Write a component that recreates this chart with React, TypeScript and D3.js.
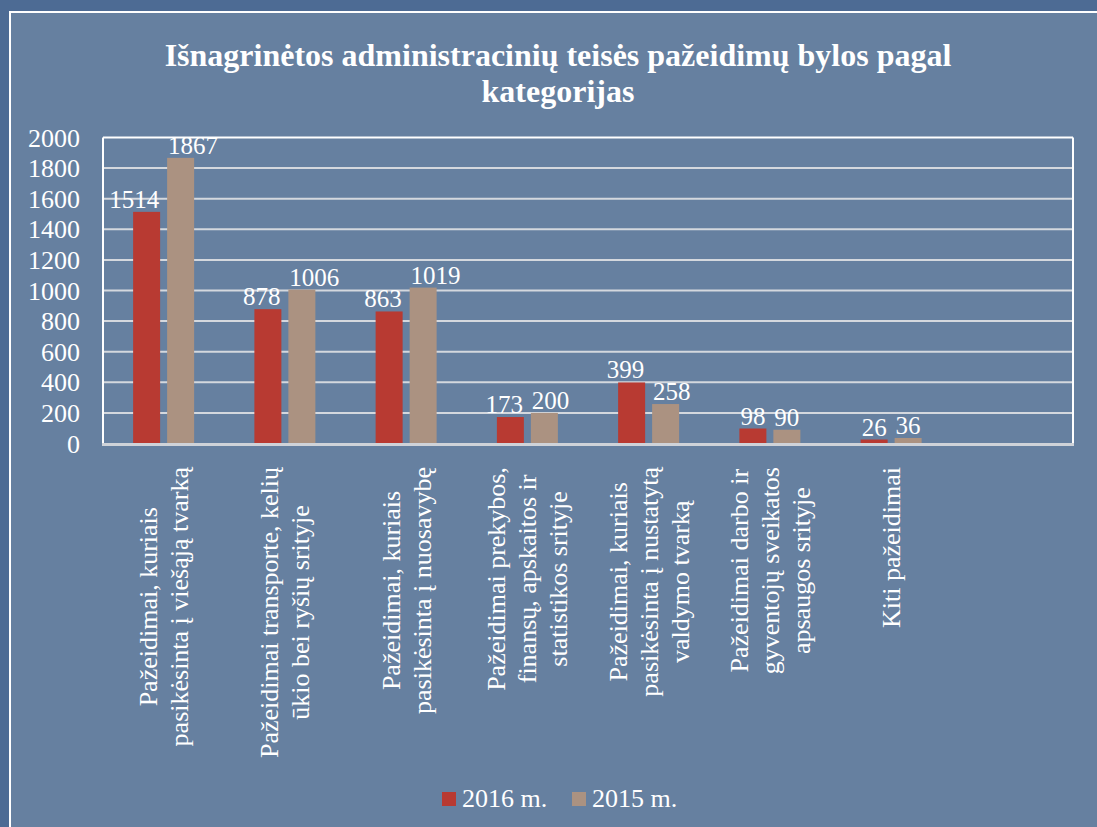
import React, { useEffect, useRef } from "react";
import * as d3 from "d3";

const categories: string[][] = [
  ["Pažeidimai, kuriais", "pasikėsinta į viešąją tvarką"],
  ["Pažeidimai transporte, kelių", "ūkio bei ryšių srityje"],
  ["Pažeidimai, kuriais", "pasikėsinta į nuosavybę"],
  ["Pažeidimai prekybos,", "finansų, apskaitos ir", "statistikos srityje"],
  ["Pažeidimai, kuriais", "pasikėsinta į nustatytą", "valdymo tvarką"],
  ["Pažeidimai darbo ir", "gyventojų sveikatos", "apsaugos srityje"],
  ["Kiti pažeidimai"],
  [],
];
const series2016: number[] = [1514, 878, 863, 173, 399, 98, 26];
const series2015: number[] = [1867, 1006, 1019, 200, 258, 90, 36];
const seriesNames: string[] = ["2016 m.", "2015 m."];
const yTicks: number[] = [0, 200, 400, 600, 800, 1000, 1200, 1400, 1600, 1800, 2000];
const titleLines: string[] = [
  "Išnagrinėtos administracinių teisės pažeidimų bylos pagal",
  "kategorijas",
];

const W = 1097;
const H = 827;
const BG = "#6680a0";
const FRAME = "#4d6b94";
const RED = "#b83a32";
const TAN = "#ab9281";
const FONT = "'Liberation Serif', 'Times New Roman', serif";

export default function App() {
  const ref = useRef<SVGSVGElement | null>(null);

  useEffect(() => {
    const svg = d3.select(ref.current);
    svg.selectAll("*").remove();

    // background
    svg.append("rect").attr("x", 0).attr("y", 0).attr("width", W).attr("height", H).attr("fill", FRAME);
    svg.append("rect").attr("x", 9).attr("y", 11).attr("width", W - 9).attr("height", H - 11).attr("fill", BG);
    svg.append("line").attr("x1", 10).attr("x2", 10).attr("y1", 11).attr("y2", H).attr("stroke", "#ffffff").attr("stroke-width", 2);
    svg.append("line").attr("x1", 9).attr("x2", W).attr("y1", 12).attr("y2", 12).attr("stroke", "#ffffff").attr("stroke-width", 2);

    // title
    const title = svg.append("g");
    titleLines.forEach((t, i) => {
      title
        .append("text")
        .attr("x", 558)
        .attr("y", 66 + i * 36)
        .attr("text-anchor", "middle")
        .attr("font-family", FONT)
        .attr("font-weight", "bold")
        .attr("font-size", 32)
        .attr("fill", "#ffffff")
        .text(t);
    });

    const left = 103,
      right = 1073,
      top = 137.5,
      bottom = 443.5;

    const x = d3
      .scaleBand<number>()
      .domain(d3.range(categories.length))
      .range([left, right])
      .padding(0);
    const y = d3.scaleLinear().domain([0, 2000]).range([bottom, top]);

    const step = x.bandwidth();
    const barW = step * 0.2227;
    const gap = step * 0.0577;

    // gridlines
    yTicks.forEach((t) => {
      if (t === 0) return;
      svg
        .append("line")
        .attr("x1", left)
        .attr("x2", right)
        .attr("y1", y(t))
        .attr("y2", y(t))
        .attr("stroke", t === 2000 ? "#ffffff" : "#d4d8de")
        .attr("stroke-width", 2);
    });
    // plot border left & right
    svg.append("line").attr("x1", left).attr("x2", left).attr("y1", top).attr("y2", bottom).attr("stroke", "#ffffff").attr("stroke-width", 2);
    svg.append("line").attr("x1", right).attr("x2", right).attr("y1", top).attr("y2", bottom).attr("stroke", "#ffffff").attr("stroke-width", 2);

    // tick labels
    yTicks.forEach((t) => {
      svg
        .append("text")
        .attr("x", 80)
        .attr("y", y(t))
        .attr("dy", "0.35em")
        .attr("text-anchor", "end")
        .attr("font-family", FONT)
        .attr("font-size", 26)
        .attr("fill", "#ffffff")
        .text(String(t));
    });

    // bars
    const all = [series2016, series2015];
    const colors = [RED, TAN];
    all.forEach((s, si) => {
      s.forEach((v, i) => {
        const c = (x(i) as number) + step / 2;
        const bx = si === 0 ? c - gap / 2 - barW : c + gap / 2;
        svg
          .append("rect")
          .attr("x", bx)
          .attr("y", y(v))
          .attr("width", barW)
          .attr("height", bottom - y(v))
          .attr("fill", colors[si]);
      });
    });

    // axis baseline
    svg.append("line").attr("x1", left - 1).attr("x2", right + 1).attr("y1", bottom + 1).attr("y2", bottom + 1).attr("stroke", "#cfd3d9").attr("stroke-width", 3);

    // data labels
    all.forEach((s, si) => {
      s.forEach((v, i) => {
        const c = (x(i) as number) + step / 2;
        const bx = si === 0 ? c - gap / 2 - barW : c + gap / 2;
        svg
          .append("text")
          .attr("x", si === 0 ? bx + barW - 1 : bx + 1)
          .attr("y", y(v) - 4)
          .attr("text-anchor", si === 0 ? "end" : "start")
          .attr("font-family", FONT)
          .attr("font-size", 25)
          .attr("fill", "#ffffff")
          .text(String(v));
      });
    });

    // category labels
    const lineGap = 31;
    categories.forEach((lines, i) => {
      if (!lines.length) return;
      const c = (x(i) as number) + step / 2;
      const g = svg.append("g");
      const texts = lines.map((l) =>
        g
          .append("text")
          .attr("font-family", FONT)
          .attr("font-size", 26)
          .attr("fill", "#ffffff")
          .attr("text-anchor", "middle")
          .text(l)
      );
      let maxLen = 0;
      texts.forEach((t) => {
        const n = (t.node() as SVGTextElement).getComputedTextLength();
        if (n > maxLen) maxLen = n;
      });
      const cy = 467 + maxLen / 2;
      texts.forEach((t, li) => {
        const bx = c + (li - (lines.length - 1) / 2) * lineGap + 9;
        t.attr("transform", `translate(${bx},${cy}) rotate(-90)`);
      });
    });

    // legend
    const legend = svg.append("g");
    const items = [
      { name: seriesNames[0], color: RED, x: 442 },
      { name: seriesNames[1], color: TAN, x: 572 },
    ];
    items.forEach((it) => {
      legend.append("rect").attr("x", it.x).attr("y", 792).attr("width", 14).attr("height", 14).attr("fill", it.color);
      legend
        .append("text")
        .attr("x", it.x + 20)
        .attr("y", 807)
        .attr("font-family", FONT)
        .attr("font-size", 26)
        .attr("fill", "#ffffff")
        .text(it.name);
    });
  }, []);

  return (
    <svg
      ref={ref}
      width={W}
      height={H}
      style={{ position: "absolute", left: 0, top: 0, display: "block" }}
    />
  );
}
